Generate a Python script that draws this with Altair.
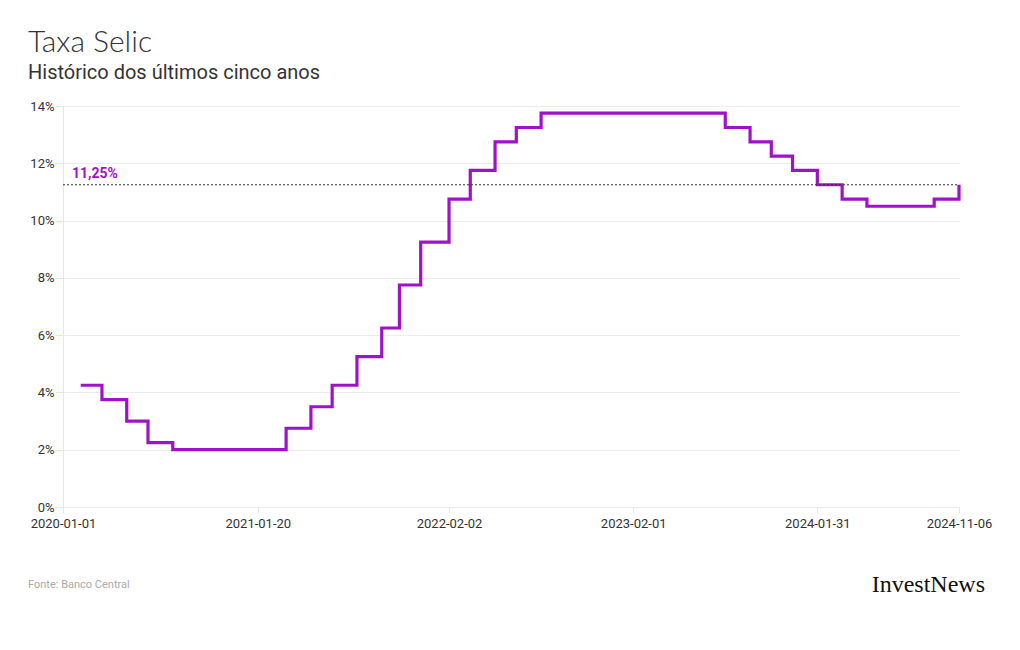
import altair as alt
import pandas as pd

dates = ["2020-02-05", "2020-03-18", "2020-05-06", "2020-06-17", "2020-08-05",
         "2021-03-17", "2021-05-05", "2021-06-16", "2021-08-04", "2021-09-22",
         "2021-10-27", "2021-12-08", "2022-02-02", "2022-03-16", "2022-05-04",
         "2022-06-15", "2022-08-03", "2023-08-02", "2023-09-20", "2023-11-01",
         "2023-12-13", "2024-01-31", "2024-03-20", "2024-05-08", "2024-09-18",
         "2024-11-06"]
rates = [4.25, 3.75, 3.00, 2.25, 2.00,
         2.75, 3.50, 4.25, 5.25, 6.25,
         7.75, 9.25, 10.75, 11.75, 12.75,
         13.25, 13.75, 13.25, 12.75, 12.25,
         11.75, 11.25, 10.75, 10.50, 10.75,
         11.25]
tick_dates = [(2020, 1, 1), (2021, 1, 20), (2022, 2, 2), (2023, 2, 1), (2024, 1, 31), (2024, 11, 6)]
current_rate = 11.25
current_label = "11,25%"
source_text = "Fonte: Banco Central"
brand_text = "InvestNews"

df = pd.DataFrame({"data": dates, "selic": rates})
ref_df = pd.DataFrame({"data": ["2020-01-01"], "selic": [current_rate], "label": [current_label]})

PURPLE = "#9e12c8"
FONT = "Roboto"

tick_vals = [alt.DateTime(year=y, month=m, date=d, utc=True) for (y, m, d) in tick_dates]
x_scale = alt.Scale(type="utc", domain=[tick_vals[0], tick_vals[-1]])
y_scale = alt.Scale(domain=[0, 14], nice=False)

x_axis = alt.Axis(values=tick_vals, labelExpr="utcFormat(datum.value, '%Y-%m-%d')",
                  title=None, grid=False, domain=False, tickColor="#e6e6e6",
                  tickSize=6, labelPadding=4, labelFontSize=13,
                  labelColor="#333333", labelFont=FONT, labelFlush=False)
y_axis = alt.Axis(values=[0, 2, 4, 6, 8, 10, 12, 14], labelExpr="datum.value + '%'",
                  title=None, grid=True, gridColor="#ececec", domain=True,
                  domainColor="#e6e6e6", tickColor="#e6e6e6", tickSize=8,
                  labelPadding=1, labelFontSize=13, labelColor="#333333",
                  labelFont=FONT)

line = alt.Chart(df).mark_line(interpolate="step-after", strokeWidth=3.2, color=PURPLE).encode(
    x=alt.X("data:T", scale=x_scale, axis=x_axis),
    y=alt.Y("selic:Q", scale=y_scale, axis=y_axis))

rule = alt.Chart(ref_df).mark_rule(color="#333333", strokeDash=[2, 2], strokeWidth=1).encode(
    y=alt.Y("selic:Q", scale=y_scale, axis=y_axis), x=alt.value(0), x2=alt.value(896))

label = alt.Chart(ref_df).mark_text(align="left", baseline="bottom", dx=9, dy=-4,
                                    fontSize=14, fontWeight="bold", color=PURPLE, font=FONT).encode(
    x=alt.X("data:T", scale=x_scale, axis=x_axis),
    y=alt.Y("selic:Q", scale=y_scale, axis=y_axis), text="label:N")

source = alt.Chart(ref_df).mark_text(align="left", baseline="middle", fontSize=11,
                                     color="#aaaaaa", font=FONT, text=source_text).encode(
    x=alt.value(-35), y=alt.value(479))

brand = alt.Chart(ref_df).mark_text(align="right", baseline="alphabetic", fontSize=24,
                                    color="#111111",
                                    font="Liberation Serif", text=brand_text).encode(
    x=alt.value(922), y=alt.value(486))

chart = alt.layer(line, rule, label, source, brand).properties(
    width=896, height=401,
    view=alt.ViewBackground(stroke="transparent", strokeWidth=0),
    title=alt.TitleParams(text="Taxa Selic", subtitle="Histórico dos últimos cinco anos",
                          anchor="start", frame="group", dx=-35, offset=17,
                          font="Lato", fontSize=30, fontWeight=300, color="#333333",
                          subtitleFont=FONT, subtitleFontSize=20, subtitleColor="#333333",
                          subtitlePadding=5),
    autosize=alt.AutoSizeParams(type="none"),
    padding={"left": 55, "top": 98, "right": 50, "bottom": 130},
).configure_view(stroke="transparent", strokeWidth=0).configure(background="white")

chart.save("out.html", embed_options={"renderer": "svg", "actions": False})
